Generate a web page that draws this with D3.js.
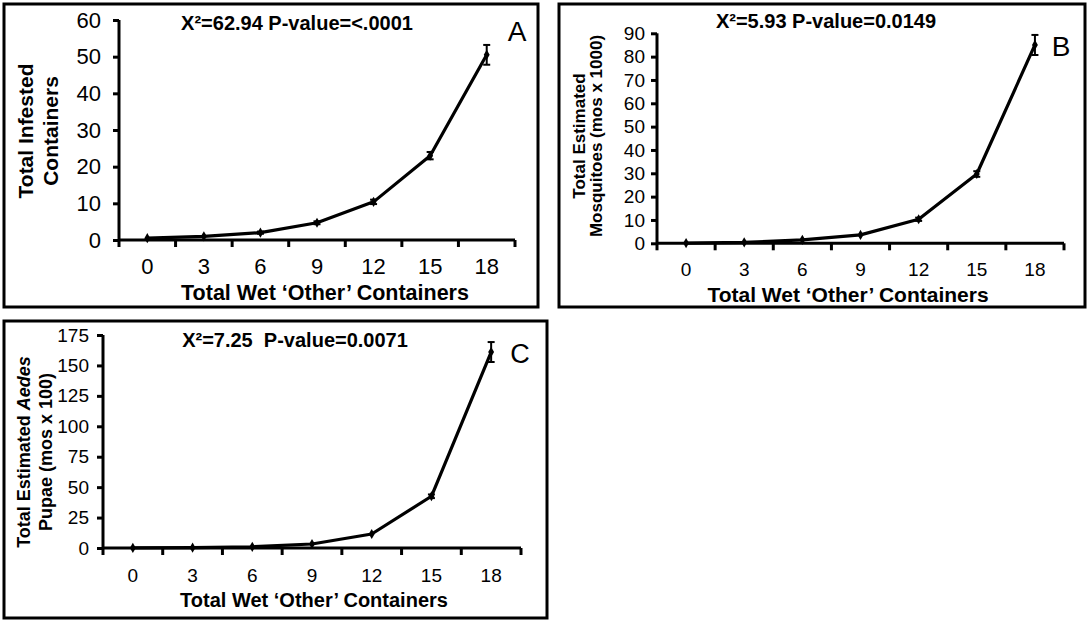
<!DOCTYPE html>
<html>
<head>
<meta charset="utf-8">
<script src="https://cdn.jsdelivr.net/npm/d3@7"></script>
<style>
  html, body { margin: 0; padding: 0; background: #fff; }
  svg { display: block; font-family: "Liberation Sans", Arial, sans-serif; }
  text { white-space: pre; }
</style>
</head>
<body>
<svg id="chart" width="1088" height="621"></svg>
<script>
// ---------- data ----------
const categories = ["0", "3", "6", "9", "12", "15", "18"];

const infestedValues = [0.5, 1.0, 2.0, 4.7, 10.4, 23.0, 50.5];
const infestedErrors = [0.2, 0.2, 0.3, 0.4, 0.6, 1.0, 2.7];
const infestedTicks = [0, 10, 20, 30, 40, 50, 60];

const mosquitoValues = [0.1, 0.4, 1.5, 3.6, 10.3, 29.7, 85.0];
const mosquitoErrors = [0.0, 0.1, 0.2, 0.4, 0.7, 1.2, 4.3];
const mosquitoTicks = [0, 10, 20, 30, 40, 50, 60, 70, 80, 90];

const pupaeValues = [0.1, 0.3, 1.0, 3.3, 11.5, 42.5, 161.0];
const pupaeErrors = [0.0, 0.0, 0.1, 0.3, 0.8, 1.5, 8.2];
const pupaeTicks = [0, 25, 50, 75, 100, 125, 150, 175];

const titles = ["X\u00B2=62.94 P-value=<.0001", "X\u00B2=5.93 P-value=0.0149", "X\u00B2=7.25  P-value=0.0071"];
const panelLetters = ["A", "B", "C"];
const xTitle = "Total Wet \u2018Other\u2019 Containers";

// ---------- layout ----------
const svg = d3.select("#chart");
const FONT = "Liberation Sans, Arial, sans-serif";

const panels = [
  {
    box: [4, 4, 534, 303], x0: 119, x1: 515, yBottom: 240, yTop: 20,
    values: infestedValues, errors: infestedErrors, ticks: infestedTicks,
    title: titles[0], titleX: 297, titleY: 30, titleSize: 20,
    letter: panelLetters[0], letterX: 517, letterY: 41, letterSize: 28,
    tickSize: 22, yTickPad: 12, xLabelY: 274, xTitleX: 325, xTitleY: 300, xTitleSize: 21.5,
    yLabelLines: [["Total Infested"], ["Containers"]], yLabelX: [25, 50], yLabelCY: 131, yLabelSize: 21,
    yTickLen: 6, xTickLen: 7
  },
  {
    box: [559, 4, 526, 303], x0: 657, x1: 1064, yBottom: 243.3, yTop: 33.3,
    values: mosquitoValues, errors: mosquitoErrors, ticks: mosquitoTicks,
    title: titles[1], titleX: 826, titleY: 28, titleSize: 20,
    letter: panelLetters[1], letterX: 1061, letterY: 56, letterSize: 28,
    tickSize: 19, yTickPad: 6, xLabelY: 276, xTitleX: 848, xTitleY: 302, xTitleSize: 21,
    yLabelLines: [["Total Estimated"], ["Mosquitoes (mos x 1000)"]], yLabelX: [579, 596], yLabelCY: 136, yLabelSize: 17,
    yTickLen: 6, xTickLen: 7
  },
  {
    box: [4, 321, 543, 297], x0: 103, x1: 521, yBottom: 548, yTop: 335,
    values: pupaeValues, errors: pupaeErrors, ticks: pupaeTicks,
    title: titles[2], titleX: 295, titleY: 347, titleSize: 20,
    letter: panelLetters[2], letterX: 520, letterY: 363, letterSize: 27,
    tickSize: 19, yTickPad: 8, xLabelY: 582, xTitleX: 314, xTitleY: 607, xTitleSize: 20,
    yLabelLines: [["Total Estimated ", "Aedes"], ["Pupae (mos x 100)"]], yLabelX: [24, 46], yLabelCY: 452, yLabelSize: 18,
    yTickLen: 6, xTickLen: 7
  }
];

panels.forEach(p => {
  const g = svg.append("g");

  // frame
  g.append("rect")
    .attr("x", p.box[0]).attr("y", p.box[1])
    .attr("width", p.box[2]).attr("height", p.box[3])
    .attr("fill", "none").attr("stroke", "#000").attr("stroke-width", 3);

  const band = d3.scaleBand().domain(categories).range([p.x0, p.x1]).padding(0);
  const xc = c => band(c) + band.bandwidth() / 2;
  const yMax = p.ticks[p.ticks.length - 1];
  const y = d3.scaleLinear().domain([0, yMax]).range([p.yBottom, p.yTop]);

  // y axis
  const yAxis = d3.axisLeft(y).tickValues(p.ticks).tickSize(p.yTickLen).tickPadding(p.yTickPad).tickFormat(d3.format("d"));
  const ya = g.append("g").attr("transform", `translate(${p.x0},0)`).call(yAxis);
  ya.attr("font-family", FONT);
  ya.select(".domain").attr("stroke", "#000").attr("stroke-width", 3)
    .attr("d", `M0,${p.yTop}V${p.yBottom}`);
  ya.selectAll(".tick line").attr("stroke", "#000").attr("stroke-width", 3);
  ya.selectAll(".tick text").attr("font-size", p.tickSize).attr("fill", "#000")
    .attr("font-family", FONT);

  // x axis (category, ticks between categories)
  const xAxis = d3.axisBottom(band).tickSize(0).tickPadding(0);
  const xa = g.append("g").attr("transform", `translate(0,${p.yBottom})`).call(xAxis);
  xa.attr("font-family", FONT);
  xa.select(".domain").attr("stroke", "#000").attr("stroke-width", 3)
    .attr("d", `M${p.x0},0H${p.x1}`);
  xa.selectAll(".tick text").attr("font-size", p.tickSize).attr("fill", "#000")
    .attr("font-family", FONT)
    .attr("dy", null).attr("y", p.xLabelY - p.yBottom);
  const boundaries = categories.map(c => band(c)).concat([p.x1]);
  xa.selectAll("line.btick").data(boundaries).enter().append("line")
    .attr("class", "btick")
    .attr("x1", d => d).attr("x2", d => d)
    .attr("y1", 0).attr("y2", p.xTickLen)
    .attr("stroke", "#000").attr("stroke-width", 3);

  // series line
  const line = d3.line().x((d, i) => xc(categories[i])).y(d => y(d));
  g.append("path").datum(p.values)
    .attr("d", line).attr("fill", "none").attr("stroke", "#000")
    .attr("stroke-width", 3.2).attr("stroke-linejoin", "round");

  // error bars
  p.values.forEach((v, i) => {
    const e = p.errors[i];
    if (y(v - e) - y(v + e) < 2) return;
    const cx = xc(categories[i]);
    g.append("line").attr("x1", cx).attr("x2", cx)
      .attr("y1", y(v + e)).attr("y2", y(v - e))
      .attr("stroke", "#000").attr("stroke-width", 2);
    [v + e, v - e].forEach(w => {
      g.append("line").attr("x1", cx - 3.5).attr("x2", cx + 3.5)
        .attr("y1", y(w)).attr("y2", y(w))
        .attr("stroke", "#000").attr("stroke-width", 2);
    });
  });

  // markers (small diamonds)
  g.selectAll("path.marker").data(p.values).enter().append("path")
    .attr("class", "marker")
    .attr("d", d3.symbol(d3.symbolDiamond, 30))
    .attr("transform", (d, i) => `translate(${xc(categories[i])},${y(d)})`)
    .attr("fill", "#000");

  // title
  g.append("text").attr("x", p.titleX).attr("y", p.titleY)
    .attr("text-anchor", "middle").attr("font-weight", "bold")
    .attr("font-size", p.titleSize).attr("fill", "#000")
    .attr("xml:space", "preserve")
    .text(p.title);

  // panel letter
  g.append("text").attr("x", p.letterX).attr("y", p.letterY)
    .attr("text-anchor", "middle").attr("font-size", p.letterSize).attr("fill", "#000")
    .text(p.letter);

  // x title
  g.append("text").attr("x", p.xTitleX).attr("y", p.xTitleY)
    .attr("text-anchor", "middle").attr("font-weight", "bold")
    .attr("font-size", p.xTitleSize).attr("fill", "#000")
    .text(xTitle);

  // y title (rotated, two lines)
  p.yLabelLines.forEach((parts, li) => {
    const tx = g.append("text")
      .attr("transform", `translate(${p.yLabelX[li]},${p.yLabelCY}) rotate(-90)`)
      .attr("text-anchor", "middle").attr("dominant-baseline", "central")
      .attr("font-weight", "bold").attr("font-size", p.yLabelSize).attr("fill", "#000");
    parts.forEach((s, k) => {
      tx.append("tspan").text(s).attr("font-style", k === 1 ? "italic" : "normal");
    });
  });
});
</script>
</body>
</html>
